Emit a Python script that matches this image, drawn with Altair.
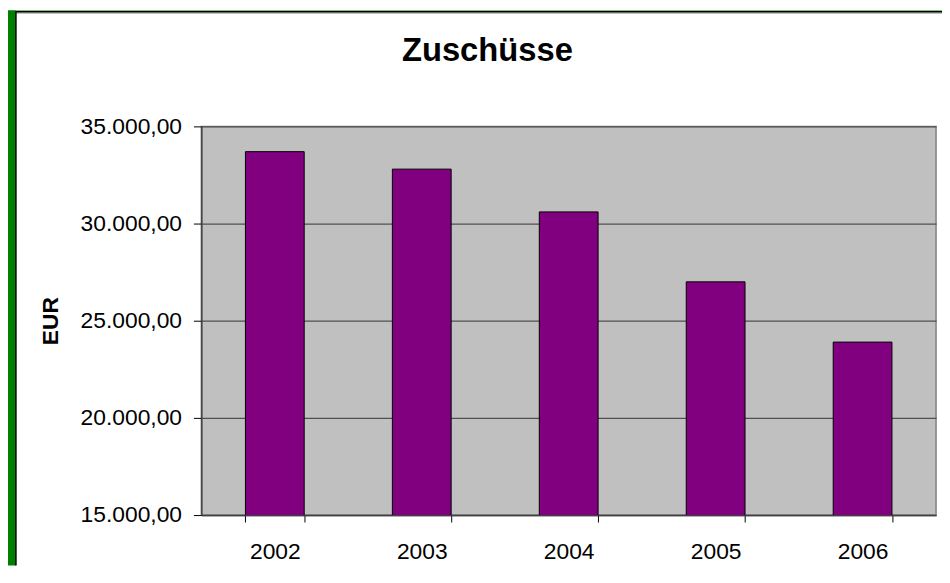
import altair as alt
import pandas as pd

# ---- data ----
years = ["2002", "2003", "2004", "2005", "2006"]
zuschuesse = [33700, 32800, 30600, 27000, 23900]
y_ticks = [15000, 20000, 25000, 30000, 35000]

df = pd.DataFrame({"Jahr": years, "EUR": zuschuesse})
deco = pd.DataFrame({"k": [0]})

FONT = "Liberation Sans"
W, H = 741, 392

german = ("replace(replace(replace(format(datum.value, ',.2f'), ',', '#'), '.', ','), '#', '.')")

bars = alt.Chart(df).mark_bar(color="#800080", stroke="#000000", strokeWidth=1, clip=True).encode(
    x=alt.X("Jahr:N", sort=years,
            scale=alt.Scale(paddingInner=0.6, paddingOuter=0.3),
            axis=alt.Axis(title=None, labelAngle=0, labelFont=FONT, labelFontSize=23,
                          labelColor="#000000", labelPadding=19, tickSize=7,
                          tickColor="#000000", tickBand="extent", domainColor="#404040",
                          domainWidth=1.5, grid=False)),
    y=alt.Y("EUR:Q",
            scale=alt.Scale(domain=[15000, 35000], zero=False, nice=False),
            axis=alt.Axis(title="EUR", values=y_ticks, labelExpr=german,
                          labelFont=FONT, labelFontSize=23, labelColor="#000000",
                          labelPadding=12, tickSize=8, tickColor="#000000",
                          domainColor="#404040", domainWidth=1.5,
                          grid=True, gridColor="#505050", gridWidth=1.2,
                          titleFont=FONT, titleFontSize=23, titleFontWeight="bold",
                          titleColor="#000000", titlePadding=18)),
)

# decorative frame (green band + dark border, outside the plot area)
top_band = alt.Chart(deco).mark_rect(color="#008000").encode(
    x=alt.value(-195), x2=alt.value(747), y=alt.value(-117), y2=alt.value(-116))
left_band = alt.Chart(deco).mark_rect(color="#008000").encode(
    x=alt.value(-195), x2=alt.value(-187), y=alt.value(-117), y2=alt.value(443))
top_line = alt.Chart(deco).mark_rule(color="#000000", strokeWidth=1.5).encode(
    x=alt.value(-187), x2=alt.value(747), y=alt.value(-115.5))
top_line2 = alt.Chart(deco).mark_rule(color="#909090", strokeWidth=1).encode(
    x=alt.value(-187), x2=alt.value(747), y=alt.value(-114.3))
left_line = alt.Chart(deco).mark_rule(color="#000000", strokeWidth=1.5).encode(
    x=alt.value(-187), y=alt.value(-116), y2=alt.value(443))

chart = alt.layer(top_band, left_band, top_line2, top_line, left_line, bars).properties(
    width=W, height=H,
    autosize="none",
    padding={"left": 195, "top": 117, "right": 6, "bottom": 51},
    background="#ffffff",
    title=alt.TitleParams("Zuschüsse", font=FONT, fontSize=33, fontWeight="bold",
                          color="#000000", anchor="middle", frame="group", dx=-82,
                          dy=84, baseline="alphabetic", offset=0),
).configure_view(fill="#C0C0C0", stroke="#808080", strokeWidth=1.5)

chart.save("out.html", embed_options={"renderer": "svg", "actions": False})
